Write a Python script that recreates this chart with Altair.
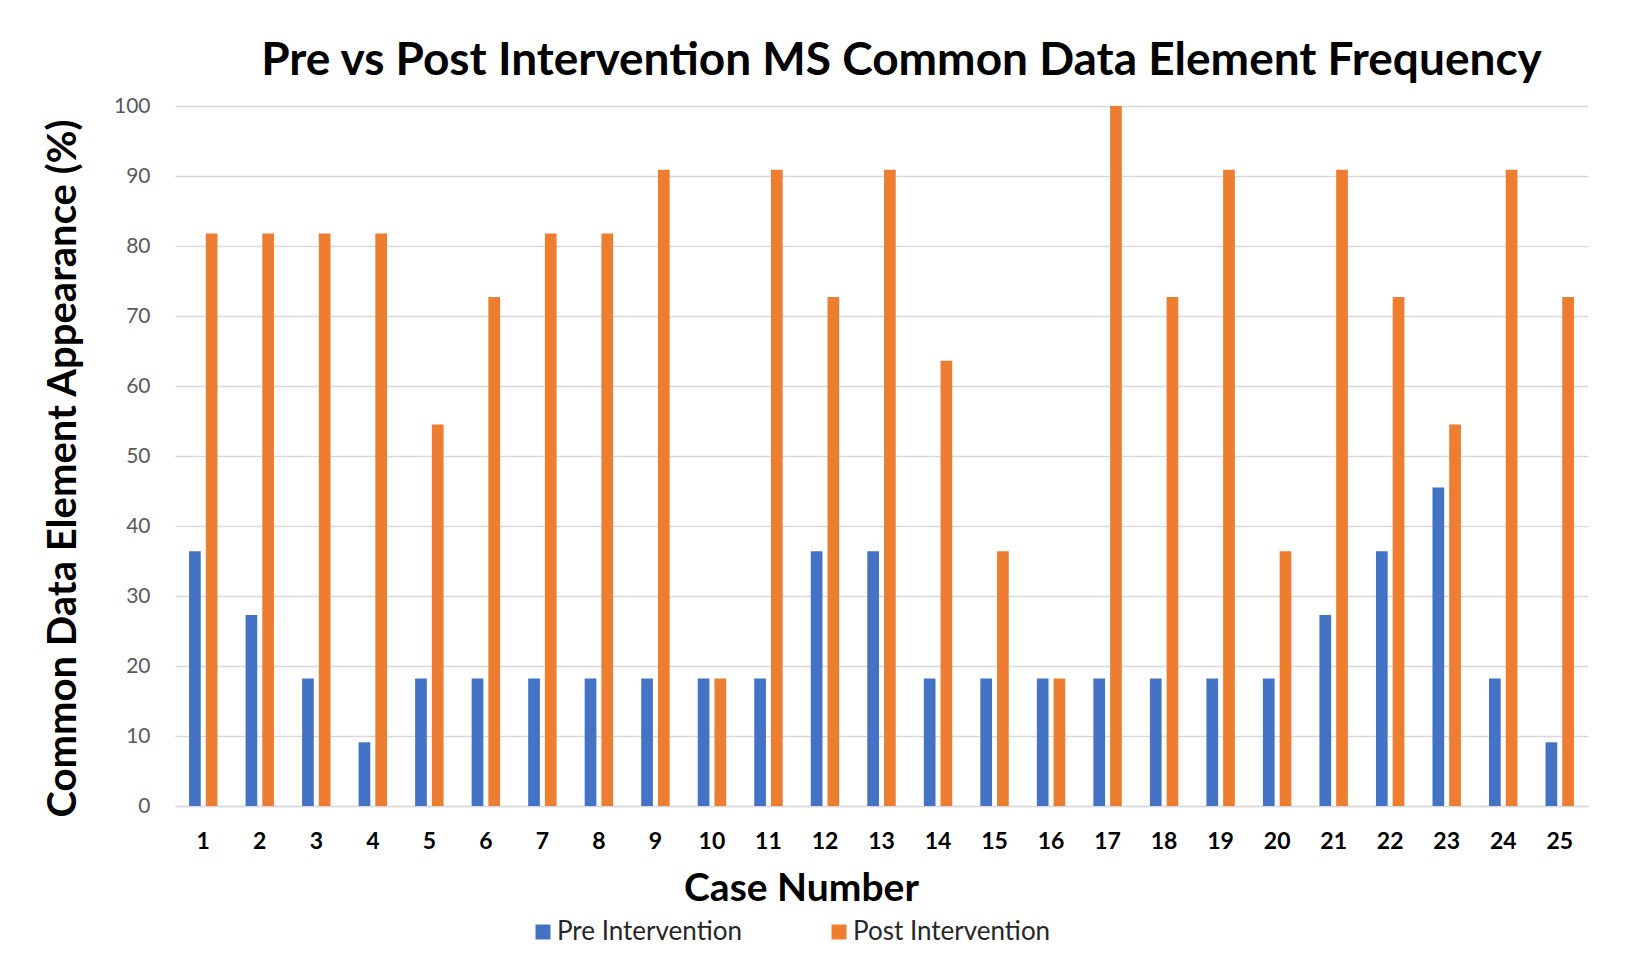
import altair as alt
import pandas as pd

cases = list(range(1, 26))
pre_values = [36.4, 27.3, 18.2, 9.1, 18.2, 18.2, 18.2, 18.2, 18.2, 18.2, 18.2, 36.4, 36.4,
              18.2, 18.2, 18.2, 18.2, 18.2, 18.2, 18.2, 27.3, 36.4, 45.5, 18.2, 9.1]
post_values = [81.8, 81.8, 81.8, 81.8, 54.5, 72.7, 81.8, 81.8, 90.9, 18.2, 90.9, 72.7, 90.9,
               63.6, 36.4, 18.2, 100.0, 72.7, 90.9, 36.4, 90.9, 72.7, 54.5, 90.9, 72.7]
series = ["Pre Intervention", "Post Intervention"]
colors = ["#4472C4", "#ED7D31"]

rows = []
for c, a, b in zip(cases, pre_values, post_values):
    rows.append({"Case": c, "Series": series[0], "Value": a})
    rows.append({"Case": c, "Series": series[1], "Value": b})
df = pd.DataFrame(rows)

FONT = "Lato"

chart = alt.Chart(df).mark_bar().encode(
    x=alt.X("Case:O",
            scale=alt.Scale(paddingInner=0.497, paddingOuter=0.2485),
            axis=alt.Axis(title="Case Number", labelAngle=0, labelFont=FONT, labelFontSize=23,
                          labelFontWeight="bold", labelColor="#000000", labelPadding=24,
                          ticks=False, domain=True, domainColor="#d9d9d9", domainWidth=1.5,
                          titleFont=FONT, titleFontSize=39, titleFontWeight="bold",
                          titleColor="#000000", titleX=626, titleY=94, titleAlign="center",
                          titleBaseline="alphabetic", grid=False)),
    xOffset=alt.XOffset("Series:N", sort=series,
                        scale=alt.Scale(paddingInner=0.3, paddingOuter=0)),
    y=alt.Y("Value:Q",
            scale=alt.Scale(domain=[0, 100]),
            axis=alt.Axis(title="Common Data Element Appearance (%)", values=list(range(0, 101, 10)),
                          labelFont=FONT, labelFontSize=21, labelColor="#595959", labelPadding=25,
                          ticks=False, domain=False, grid=True, gridColor="#d9d9d9", gridWidth=1.5,
                          titleFont=FONT, titleFontSize=40, titleFontWeight="bold",
                          titleColor="#000000", titleAngle=-90, titleX=-100, titleY=362,
                          titleAlign="center", titleBaseline="alphabetic")),
    color=alt.Color("Series:N", sort=series,
                    scale=alt.Scale(domain=series, range=colors),
                    legend=alt.Legend(title=None, orient="none", direction="horizontal",
                                      legendX=355, legendY=813, symbolType="square",
                                      symbolSize=225, symbolStrokeWidth=0, labelFont=FONT,
                                      labelFontSize=26, labelColor="#262626", columnPadding=84,
                                      padding=0, labelOffset=1, labelLimit=500)),
).properties(
    width=1413,
    height=700,
    title=alt.TitleParams("Pre vs Post Intervention MS Common Data Element Frequency",
                          font=FONT, fontSize=46, fontWeight="bold", color="#000000",
                          anchor="middle", dx=20, offset=10),
    autosize=alt.AutoSizeParams(type="none"),
    padding={"left": 167, "top": 98, "right": 43, "bottom": 148},
    background="white",
).configure_view(stroke=None)

chart.save("out.html", embed_options={"renderer": "svg", "actions": False})
